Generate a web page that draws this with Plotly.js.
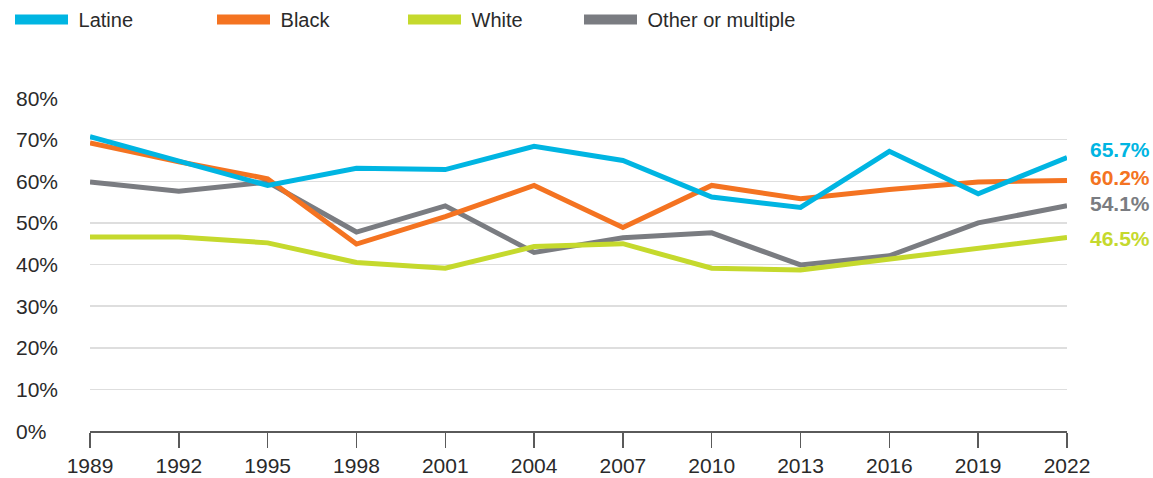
<!DOCTYPE html>
<html>
<head>
<meta charset="utf-8">
<script src="https://cdn.plot.ly/plotly-3.0.1.min.js"></script>
<style>html,body{margin:0;padding:0;background:#fff;}#chart{width:1153px;height:478px;}</style>
</head>
<body>
<div id="chart"></div>
<script>
const years = [1989, 1992, 1995, 1998, 2001, 2004, 2007, 2010, 2013, 2016, 2019, 2022];
const latine = [70.7, 64.8, 59.0, 63.1, 62.8, 68.4, 65.0, 56.2, 53.7, 67.2, 57.0, 65.7];
const black  = [69.2, 64.7, 60.6, 44.9, 51.5, 59.0, 48.9, 59.0, 55.8, 58.0, 59.8, 60.2];
const white  = [46.6, 46.6, 45.2, 40.5, 39.1, 44.3, 45.0, 39.1, 38.7, 41.3, 43.9, 46.5];
const other  = [59.8, 57.6, 59.8, 47.8, 54.1, 42.9, 46.4, 47.6, 39.9, 42.1, 50.0, 54.1];
const seriesNames = ["Latine", "Black", "White", "Other or multiple"];
const yTicks = [0, 10, 20, 30, 40, 50, 60, 70, 80];

const colors = ["#00b5e2", "#f47321", "#c5d92d", "#7a7c81"];
const allSeries = [latine, black, white, other];
const labelShift = [8, 3, -1, 2];
const legendIds = ["legend", "legend2", "legend3", "legend4"];
const legendLeft = [10, 212, 403, 579];
const FONT = "Liberation Sans, Arial, Helvetica, sans-serif";

const traces = [];
const order = [3, 2, 1, 0];
order.forEach(i => {
  traces.push({
    x: years, y: allSeries[i], type: "scatter", mode: "lines",
    line: {color: colors[i], width: 5}, showlegend: false, hoverinfo: "skip"
  });
});
seriesNames.forEach((n, i) => {
  traces.push({
    x: [null], y: [null], type: "scatter", mode: "lines", name: "\u00a0" + n,
    line: {color: colors[i], width: 10}, showlegend: true, legend: legendIds[i]
  });
});

const annotations = [];
yTicks.forEach(v => {
  annotations.push({
    xref: "paper", yref: "y", x: 0, y: v, xanchor: "left", yanchor: "middle",
    xshift: -76, text: v + "%", showarrow: false,
    font: {family: FONT, size: 21, color: "#2a2a2a"}
  });
});
allSeries.forEach((s, i) => {
  const last = s[s.length - 1];
  annotations.push({
    xref: "x", yref: "y", x: years[years.length - 1], y: last,
    xanchor: "left", yanchor: "middle", xshift: 21, yshift: labelShift[i],
    text: "<b>" + last.toFixed(1) + "%</b>", showarrow: false,
    font: {family: FONT, size: 21, color: colors[i]}
  });
});

const layout = {
  width: 1153, height: 478,
  margin: {l: 90, r: 86, t: 98, b: 47},
  paper_bgcolor: "#fff", plot_bgcolor: "#fff",
  font: {family: FONT, size: 21, color: "#2a2a2a"},
  xaxis: {
    type: "linear", range: [1989, 2022],
    tickvals: years, ticktext: years.map(String),
    showgrid: false, zeroline: false,
    showline: true, linecolor: "#5a5a5a", linewidth: 1.5,
    ticks: "outside", ticklen: 15, tickwidth: 1.5, tickcolor: "#5a5a5a",
    tickfont: {size: 21, color: "#2a2a2a"}, fixedrange: true
  },
  yaxis: {
    range: [0, 80], tickvals: yTicks, showticklabels: false,
    showgrid: true, gridcolor: "#dedede", gridwidth: 1.5,
    zeroline: false, showline: false, ticks: "", fixedrange: true
  },
  showlegend: true,
  annotations: annotations
};
legendIds.forEach((id, i) => {
  layout[id] = {
    orientation: "h", xref: "container", yref: "container",
    x: legendLeft[i] / 1153, y: 1, xanchor: "left", yanchor: "top",
    itemwidth: 53, font: {family: FONT, size: 20, color: "#2a2a2a"},
    bgcolor: "rgba(0,0,0,0)"
  };
});

Plotly.newPlot("chart", traces, layout, {staticPlot: true, displayModeBar: false});
</script>
</body>
</html>
